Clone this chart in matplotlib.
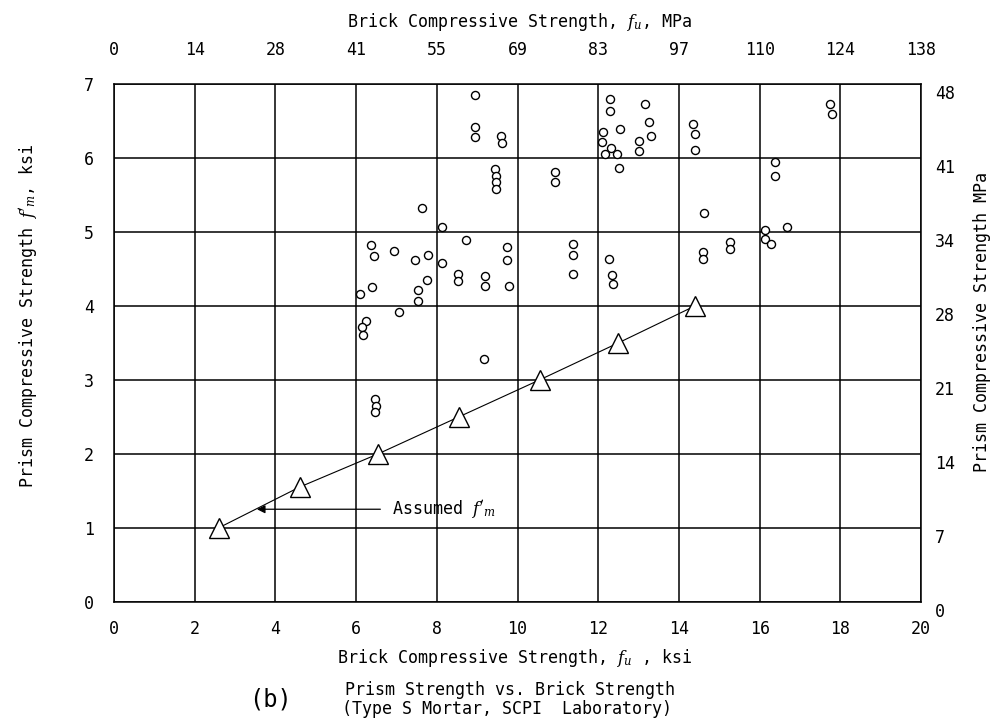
import matplotlib
matplotlib.use("Agg")
import matplotlib.pyplot as plt
import matplotlib.transforms as mtransforms

# Brick strength f_u (ksi) and prism strength f'_m (ksi) test results
brick_ksi = [8.94, 8.94, 8.94, 9.58, 9.62, 9.45, 9.47, 9.47, 9.47, 7.63,
             8.12, 6.36, 6.44, 6.94, 7.46, 7.79, 8.14, 8.73, 8.53, 8.53,
             9.19, 9.19, 9.74, 9.74, 9.78, 6.39, 6.10, 7.75, 7.54, 7.54,
             7.05, 6.24, 6.14, 6.16, 9.17, 6.46, 6.48, 6.47, 10.93, 10.93,
             11.37, 11.37, 11.37, 12.28, 12.28, 13.15, 13.26, 12.54, 12.13, 12.10,
             13.31, 13.01, 12.31, 12.16, 12.47, 13.01, 12.51, 14.36, 14.39, 14.41,
             17.75, 17.79, 16.38, 16.38, 14.63, 16.14, 16.69, 16.14, 16.28, 15.27,
             15.27, 14.59, 14.59, 12.27, 12.35, 12.36]
prism_ksi = [6.85, 6.42, 6.29, 6.30, 6.20, 5.85, 5.76, 5.67, 5.58, 5.33,
             5.07, 4.82, 4.67, 4.74, 4.62, 4.69, 4.58, 4.89, 4.43, 4.34,
             4.40, 4.27, 4.79, 4.62, 4.27, 4.26, 4.16, 4.35, 4.21, 4.07,
             3.92, 3.79, 3.72, 3.61, 3.28, 2.74, 2.65, 2.56, 5.81, 5.67,
             4.83, 4.69, 4.43, 6.80, 6.63, 6.73, 6.48, 6.39, 6.35, 6.21,
             6.30, 6.23, 6.13, 6.06, 6.06, 6.09, 5.87, 6.46, 6.33, 6.11,
             6.73, 6.60, 5.94, 5.76, 5.25, 5.02, 5.06, 4.91, 4.84, 4.86,
             4.77, 4.73, 4.64, 4.64, 4.42, 4.30]

# Assumed f'_m relation (triangles)
assumed_fu = [2.6, 4.6, 6.55, 8.55, 10.55, 12.5, 14.4]
assumed_fm = [1.0, 1.55, 2.0, 2.5, 3.0, 3.5, 4.0]

# Axis ticks and secondary (SI) tick labels
x_ticks = [0, 2, 4, 6, 8, 10, 12, 14, 16, 18, 20]
y_ticks = [0, 1, 2, 3, 4, 5, 6, 7]
x_mpa_labels = ["0", "14", "28", "41", "55", "69", "83", "97", "110", "124", "138"]
y_mpa_labels = ["0", "7", "14", "21", "28", "34", "41", "48"]

FS = 12
plt.rcParams["font.family"] = ["DejaVu Sans Mono"]
plt.rcParams["mathtext.fontset"] = "dejavuserif"

fig = plt.figure(figsize=(10.03, 7.23), dpi=100)
ax = fig.add_axes([0.1137, 0.1678, 0.9183 - 0.1137, 0.8838 - 0.1678])

ax.set_xlim(0, 20)
ax.set_ylim(0, 7)
ax.set_xticks(x_ticks)
ax.set_yticks(y_ticks)
ax.set_xticklabels([str(v) for v in x_ticks])
ax.set_yticklabels([str(v) for v in y_ticks])
ax.grid(True, color="black", linewidth=1.1)
ax.set_axisbelow(True)
ax.tick_params(axis="both", length=0, labelsize=FS)
ax.tick_params(axis="x", pad=13)
ax.tick_params(axis="y", pad=14.5)
for sp in ax.spines.values():
    sp.set_linewidth(1.1)
    sp.set_color("black")

# test data
ax.plot(brick_ksi, prism_ksi, linestyle="none", marker="o", markersize=5.8,
        markerfacecolor="white", markeredgecolor="black", markeredgewidth=1.0,
        zorder=3)

# assumed relation
ax.plot(assumed_fu, assumed_fm, color="black", linewidth=0.8, zorder=3)
ax.plot(assumed_fu, assumed_fm, linestyle="none", marker="^", markersize=15,
        markerfacecolor="white", markeredgecolor="black", markeredgewidth=1.0,
        zorder=4)

ax.annotate("", xy=(3.54, 1.25), xytext=(6.6, 1.25),
            arrowprops=dict(arrowstyle="-|>", color="black", lw=0.9,
                            mutation_scale=12, shrinkA=0, shrinkB=0),
            zorder=5)
ax.text(6.9, 1.25, r"Assumed $f'_{m}$", fontsize=FS, va="center", ha="left",
        zorder=5)

# top axis in MPa
axt = ax.twiny()
axt.set_xlim(ax.get_xlim())
axt.set_xticks(x_ticks)
axt.set_xticklabels(x_mpa_labels)
axt.tick_params(axis="x", length=0, labelsize=FS, pad=18)
for sp in axt.spines.values():
    sp.set_visible(False)

# right-hand MPa labels, set just below each grid line
right_tr = mtransforms.blended_transform_factory(ax.transAxes, ax.transData)
for yv, lab in zip(y_ticks, y_mpa_labels):
    ax.annotate(lab, xy=(1, yv), xycoords=right_tr, xytext=(10, -7.5),
                textcoords="offset points", fontsize=FS, ha="left",
                va="center", annotation_clip=False)

fig.text(0.518, 1 - 22 / 723, r"Brick Compressive Strength, $f_{u}$, MPa",
         fontsize=FS, ha="center", va="center")
fig.text(0.513, 1 - 658 / 723, r"Brick Compressive Strength, $f_{u}$ , ksi",
         fontsize=FS, ha="center", va="center")
fig.text(28 / 1003, 1 - 316 / 723, r"Prism Compressive Strength $f'_{m}$, ksi",
         fontsize=FS, rotation=90, ha="center", va="center")
fig.text(982 / 1003, 1 - 322 / 723, "Prism Compressive Strength MPa",
         fontsize=FS, rotation=90, ha="center", va="center")

fig.text(270 / 1003, 1 - 699 / 723, "(b)", fontsize=17, ha="center",
         va="center")
fig.text(345 / 1003, 1 - 690 / 723, "Prism Strength vs. Brick Strength",
         fontsize=FS, ha="left", va="center")
fig.text(342 / 1003, 1 - 709 / 723, "(Type S Mortar, SCPI  Laboratory)",
         fontsize=FS, ha="left", va="center")

fig.savefig("out.png", dpi=100)
